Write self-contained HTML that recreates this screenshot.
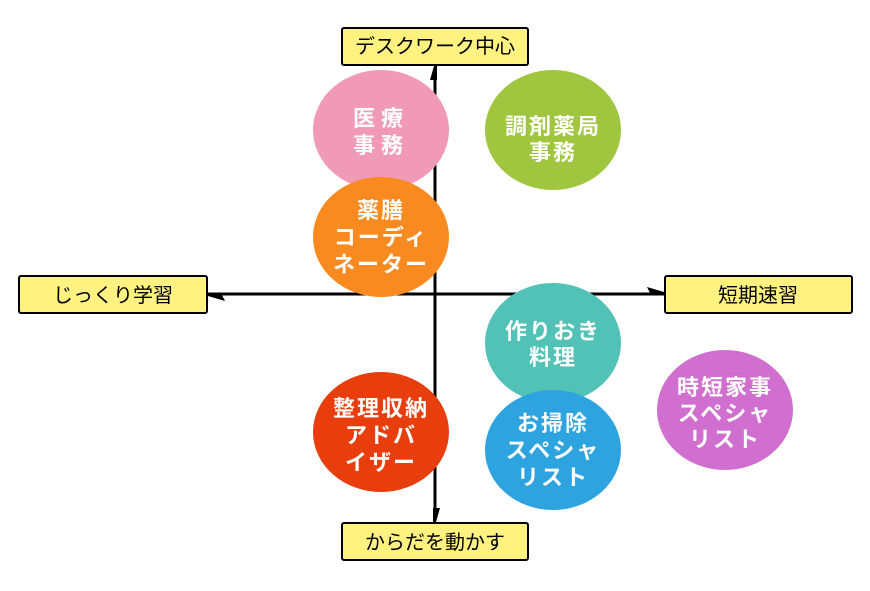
<!DOCTYPE html>
<html><head><meta charset="utf-8"><style>
body{margin:0;background:#fff;}
text{font-family:"Liberation Sans","Noto Sans CJK JP",sans-serif;}
</style></head><body>
<svg width="870" height="586" viewBox="0 0 870 586" xmlns="http://www.w3.org/2000/svg">
<g stroke="#000" stroke-width="3">
<line x1="435" y1="68" x2="435" y2="521"/>
<line x1="208" y1="294" x2="664" y2="294"/>
</g>
<polygon points="434,66 437,66 437,80 430,80" fill="#000"/>
<polygon points="436,522 433,522 433,508 440,508" fill="#000"/>
<polygon points="208,294 208,296 225,301 222,295" fill="#000"/>
<polygon points="664,294 664,292 647,287 650,293" fill="#000"/>
<g stroke="#000" stroke-width="2" fill="#fff280">
<rect x="342" y="28" width="186" height="37" rx="2"/>
<rect x="19" y="276" width="188" height="37" rx="2"/>
<rect x="665" y="276" width="187" height="37" rx="2"/>
<rect x="342" y="523" width="186" height="37" rx="2"/>
</g>
<g font-size="20" text-anchor="middle" fill="#000">
<text x="435" y="53">デスクワーク中心</text>
<text x="113" y="302">じっくり学習</text>
<text x="758" y="302">短期速習</text>
<text x="435" y="549">からだを動かす</text>
</g>
<ellipse cx="381" cy="130" rx="68" ry="60" fill="#f19ab8"/>
<ellipse cx="553" cy="130" rx="68" ry="60" fill="#9fc63e"/>
<ellipse cx="381" cy="237" rx="68" ry="60" fill="#f98a1f"/>
<ellipse cx="553" cy="343" rx="68" ry="60" fill="#52c2b6"/>
<ellipse cx="725" cy="410" rx="68" ry="60" fill="#d06fd0"/>
<ellipse cx="381" cy="432" rx="68" ry="60" fill="#e83d0c"/>
<ellipse cx="553" cy="450" rx="68" ry="60" fill="#2da3e0"/>
<g font-size="22" font-weight="bold" text-anchor="middle" fill="#fff" letter-spacing="2">
<text x="381" y="126" letter-spacing="6">医療</text><text x="381" y="153" letter-spacing="6">事務</text>
<text x="553" y="134">調剤薬局</text><text x="553" y="160">事務</text>
<text x="381" y="218">薬膳</text><text x="381" y="245">コーディ</text><text x="381" y="272">ネーター</text>
<text x="553" y="339">作りおき</text><text x="553" y="365">料理</text>
<text x="725" y="395">時短家事</text><text x="725" y="421">スペシャ</text><text x="725" y="447">リスト</text>
<text x="381" y="416">整理収納</text><text x="381" y="443">アドバ</text><text x="381" y="470">イザー</text>
<text x="553" y="431">お掃除</text><text x="553" y="458">スペシャ</text><text x="553" y="485">リスト</text>
</g>
</svg>
</body></html>
